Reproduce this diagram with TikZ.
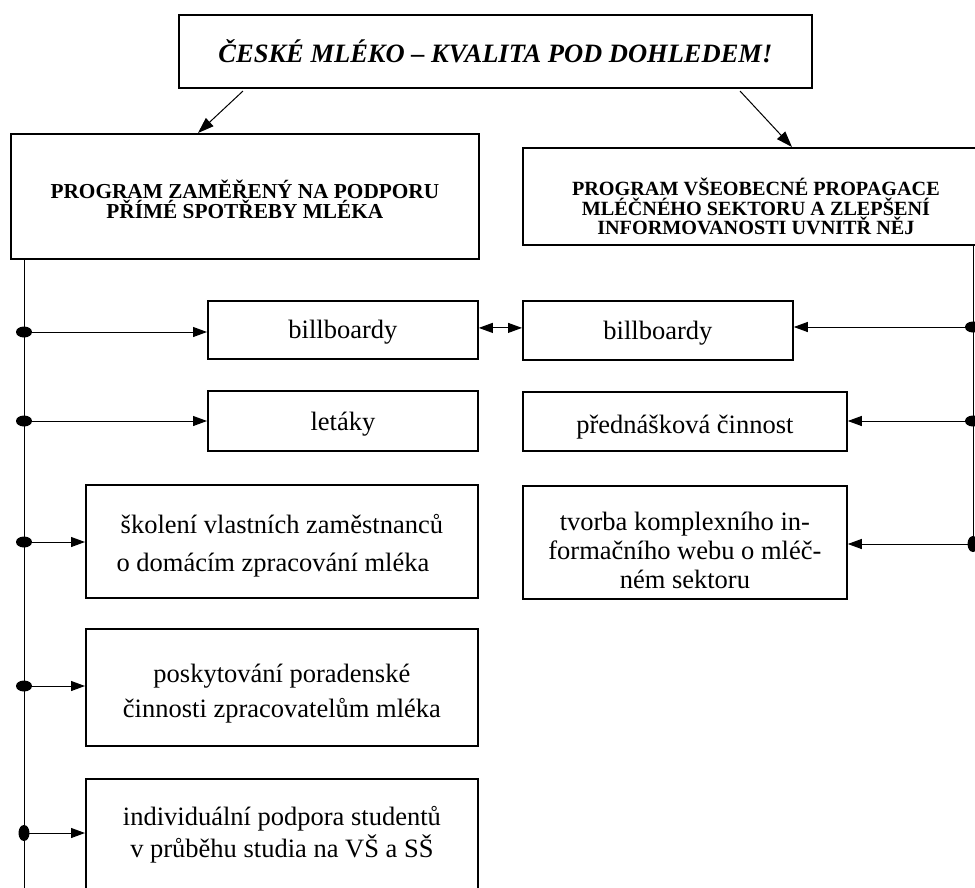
\documentclass[tikz,border=0pt]{standalone}
\usepackage{fontspec}
\setmainfont{Liberation Serif}
\usetikzlibrary{arrows.meta,calc}
\newcommand{\Lrow}[1]{\smash{#1}\rule[-0.3\baselineskip]{0pt}{\baselineskip}}
\newcommand{\boxtext}[4]{\raisebox{-#3}[\height][\depth]{\fontsize{#1}{#2}\selectfont\vbox{\lineskiplimit=-\maxdimen\halign{\hfil##\hfil\cr#4}}}}
\begin{document}
\begin{tikzpicture}[x=1pt,y=-1pt,
  box/.style={draw, line width=1.8pt, inner sep=0pt, anchor=north west},
  conn/.style={line width=1pt},
  arr/.style={conn, -{Triangle[length=14pt,width=10pt]}},
  toparr/.style={conn, -{Triangle[length=16pt,width=11pt]}},
  darr/.style={conn, {Triangle[length=14pt,width=10pt]}-{Triangle[length=14pt,width=10pt]}}]

\useasboundingbox[fill=white] (0,0) rectangle (975,887);

% boxes
\node[box, minimum width=633pt, minimum height=73pt] (title) at (178,14)
  {\boxtext{26.5pt}{31pt}{5.3pt}{\Lrow{\bfseries\itshape ČESKÉ MLÉKO – KVALITA POD DOHLEDEM!}\cr}};
\node[box, minimum width=468pt, minimum height=125pt] (lp) at (10,133)
  {\boxtext{21.3pt}{20pt}{8.1pt}{\Lrow{\bfseries PROGRAM ZAMĚŘENÝ NA PODPORU}\cr\Lrow{\bfseries PŘÍMÉ SPOTŘEBY MLÉKA}\cr}};
\node[box, minimum width=466pt, minimum height=97pt] (rp) at (522,147)
  {\boxtext{20.2pt}{19.5pt}{14.7pt}{\Lrow{\bfseries PROGRAM VŠEOBECNÉ PROPAGACE}\cr\Lrow{\bfseries MLÉČNÉHO SEKTORU A ZLEPŠENÍ}\cr\Lrow{\bfseries INFORMOVANOSTI UVNITŘ NĚJ}\cr}};

\node[box, minimum width=270pt, minimum height=58pt] (lb1) at (207,300)
  {\boxtext{26.5pt}{30pt}{3pt}{\Lrow{billboardy}\cr}};
\node[box, minimum width=270pt, minimum height=60pt] (lb2) at (207,390)
  {\boxtext{26.5pt}{30pt}{4pt}{\Lrow{letáky}\cr}};
\node[box, minimum width=392pt, minimum height=113pt] (lb3) at (85,484)
  {\boxtext{26.5pt}{38pt}{3pt}{\Lrow{školení vlastních zaměstnanců}\cr\Lrow{o domácím zpracování mléka\hspace{18pt}}\cr}};
\node[box, minimum width=392pt, minimum height=117pt] (lb4) at (85,628)
  {\boxtext{26.5pt}{35pt}{6pt}{\Lrow{poskytování poradenské}\cr\Lrow{činnosti zpracovatelům mléka}\cr}};
\node[box, minimum width=392pt, minimum height=128pt] (lb5) at (85,778)
  {\boxtext{26.5pt}{32pt}{-7.4pt}{\Lrow{individuální podpora studentů}\cr\Lrow{v průběhu studia na VŠ a SŠ}\cr}};

\node[box, minimum width=270pt, minimum height=59pt] (rb1) at (522,300)
  {\boxtext{26.5pt}{30pt}{3pt}{\Lrow{billboardy}\cr}};
\node[box, minimum width=324pt, minimum height=59pt] (rb2) at (522,391)
  {\boxtext{26.5pt}{30pt}{6.5pt}{\Lrow{přednášková činnost}\cr}};
\node[box, minimum width=324pt, minimum height=113pt] (rb3) at (522,485)
  {\boxtext{26.5pt}{29pt}{11.7pt}{\Lrow{tvorba komplexního in-}\cr\Lrow{formačního webu o mléč-}\cr\Lrow{ném sektoru}\cr}};

% top arrows
\coordinate (t1) at (243,91);
\coordinate (t2) at (740,91);
\draw[toparr] (t1) -- ($(lp.north west)+(188,0)$);
\draw[toparr] (t2) -- ($(rp.north west)+(270,0)$);

% left spine
\coordinate (dl1) at (24,332);
\coordinate (dl2) at (24,421);
\coordinate (dl3) at (24,542);
\coordinate (dl4) at (24,686);
\coordinate (dl5) at (24,833);
\coordinate (lend) at (24,890);
\draw[conn] (lp.south -| dl1) -- (lend);
\draw[arr] (dl1) -- (dl1 -| lb1.west);
\draw[arr] (dl2) -- (dl2 -| lb2.west);
\draw[arr] (dl3) -- (dl3 -| lb3.west);
\draw[arr] (dl4) -- (dl4 -| lb4.west);
\draw[arr] (dl5) -- (dl5 -| lb5.west);
\fill (dl1) ellipse [x radius=8pt, y radius=5.5pt];
\fill (dl2) ellipse [x radius=8pt, y radius=5.5pt];
\fill (dl3) ellipse [x radius=8pt, y radius=5.5pt];
\fill (dl4) ellipse [x radius=8pt, y radius=5.5pt];
\fill (dl5) ellipse [x radius=5.5pt, y radius=8pt];

% right spine
\coordinate (dr1) at (973,327);
\coordinate (dr2) at (973,421);
\coordinate (dr3) at (973,544);
\draw[conn] (rp.south -| dr1) -- (dr3);
\draw[arr] (dr1) -- (dr1 -| rb1.east);
\draw[arr] (dr2) -- (dr2 -| rb2.east);
\draw[arr] (dr3) -- (dr3 -| rb3.east);
\fill (dr1) ellipse [x radius=8pt, y radius=5.5pt];
\fill (dr2) ellipse [x radius=8pt, y radius=5.5pt];
\fill (dr3) ellipse [x radius=5.5pt, y radius=8pt];

% double arrow between billboardy boxes
\coordinate (dbl) at ($(lb1.east)+(0,-2)$);
\draw[darr] (dbl) -- (dbl -| rb1.west);
\end{tikzpicture}
\end{document}
